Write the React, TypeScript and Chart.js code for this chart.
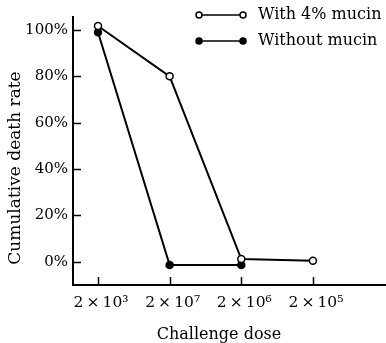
import React, { useEffect, useRef } from "react";
import { Chart, registerables } from "chart.js";

Chart.register(...registerables);

const doseLabels = ["2\u2009×\u200910³", "2\u2009×\u200910⁷", "2\u2009×\u200910⁶", "2\u2009×\u200910⁵"];
const withMucin = [101.7, 80, 1.2, 0.5];
const withoutMucin = [99, -1.4, -1.4];
const seriesNames = ["With 4% mucin", "Without mucin"];
const yTickValues = [0, 20, 40, 60, 80, 100];
const yTitle = "Cumulative death rate";
const xTitle = "Challenge dose";

const FONT = "'DejaVu Serif', 'Liberation Serif', serif";
const INK = "#000";

const decorPlugin = {
  id: "decor",
  afterDraw(chart: any) {
    const ctx = chart.ctx;
    const xs = chart.scales.x;
    const ys = chart.scales.y;
    const area = chart.chartArea;
    ctx.save();
    ctx.strokeStyle = INK;
    ctx.lineWidth = 1.5;
    // inward ticks
    yTickValues.forEach((v) => {
      const y = Math.round(ys.getPixelForValue(v)) + 0.5;
      ctx.beginPath();
      ctx.moveTo(area.left, y);
      ctx.lineTo(area.left + 8, y);
      ctx.stroke();
    });
    doseLabels.forEach((_, i) => {
      const x = Math.round(xs.getPixelForValue(i)) + 0.5;
      ctx.beginPath();
      ctx.moveTo(x, area.bottom);
      ctx.lineTo(x, area.bottom - 8);
      ctx.stroke();
    });
    // titles
    ctx.fillStyle = INK;
    ctx.font = `17px ${FONT}`;
    ctx.textAlign = "center";
    ctx.textBaseline = "middle";
    ctx.save();
    ctx.translate(16, 168);
    ctx.rotate(-Math.PI / 2);
    ctx.fillText(yTitle, 0, 0);
    ctx.restore();
    ctx.font = `16px ${FONT}`;
    ctx.textBaseline = "alphabetic";
    ctx.fillText(xTitle, 219, 339);
    // legend
    const rows = [
      { y: 15, ty: 14.5, fill: "#fff" },
      { y: 41, ty: 40.5, fill: INK },
    ];
    rows.forEach((r, i) => {
      ctx.lineWidth = 1.5;
      ctx.beginPath();
      ctx.moveTo(199, r.y);
      ctx.lineTo(243, r.y);
      ctx.stroke();
      [199, 243].forEach((cx) => {
        ctx.beginPath();
        ctx.arc(cx, r.y, 3, 0, Math.PI * 2);
        ctx.fillStyle = r.fill;
        ctx.fill();
        ctx.stroke();
      });
      ctx.fillStyle = INK;
      ctx.font = `16px ${FONT}`;
      ctx.textAlign = "left";
      ctx.textBaseline = "middle";
      ctx.fillText(seriesNames[i], 258, r.ty);
    });
    ctx.restore();
  },
};

export default function App() {
  const ref = useRef<HTMLCanvasElement>(null);
  useEffect(() => {
    document.body.style.margin = "0";
    const chart = new Chart(ref.current as HTMLCanvasElement, {
      type: "line",
      data: {
        datasets: [
          {
            label: seriesNames[0],
            data: withMucin.map((v, i) => ({ x: i, y: v })),
            borderColor: INK,
            borderWidth: 2,
            pointRadius: 3.5,
            pointBorderWidth: 1.5,
            pointBackgroundColor: "#fff",
            pointBorderColor: INK,
            tension: 0,
          },
          {
            label: seriesNames[1],
            data: withoutMucin.map((v, i) => ({ x: i, y: v })),
            borderColor: INK,
            borderWidth: 2,
            pointRadius: 3.5,
            pointBorderWidth: 1.5,
            pointBackgroundColor: INK,
            pointBorderColor: INK,
            tension: 0,
          },
        ],
      },
      plugins: [decorPlugin],
      options: {
        animation: false,
        responsive: false,
        maintainAspectRatio: false,
        layout: { autoPadding: false, padding: { top: 17, right: 0, left: 0, bottom: 0 } },
        plugins: { legend: { display: false }, tooltip: { enabled: false } },
        scales: {
          x: {
            type: "linear",
            min: -0.349,
            max: 4.02,
            grid: { display: false, drawTicks: false },
            border: { display: true, color: INK, width: 2 },
            afterBuildTicks: (s: any) => {
              s.ticks = doseLabels.map((_, i) => ({ value: i }));
            },
            afterFit: (s: any) => {
              s.height = 58;
              s.paddingLeft = 0;
              s.paddingRight = 0;
            },
            ticks: {
              padding: 9,
              labelOffset: 3,
              color: INK,
              font: { family: FONT, size: 15.5 },
              maxRotation: 0,
              autoSkip: false,
              callback: (v: any) => doseLabels[Math.round(v)] ?? "",
            },
          },
          y: {
            type: "linear",
            min: -10,
            max: 105.6,
            grid: { display: false, drawTicks: false },
            border: { display: true, color: INK, width: 2 },
            afterBuildTicks: (s: any) => {
              s.ticks = yTickValues.map((v) => ({ value: v }));
            },
            afterFit: (s: any) => {
              s.width = 73;
              s.paddingTop = 0;
              s.paddingBottom = 0;
            },
            ticks: {
              padding: 5,
              color: INK,
              font: { family: FONT, size: 15 },
              autoSkip: false,
              callback: (v: any) => `${v}%`,
            },
          },
        },
      },
    });
    return () => chart.destroy();
  }, []);
  return <canvas ref={ref} width={386} height={343} style={{ display: "block" }} />;
}
